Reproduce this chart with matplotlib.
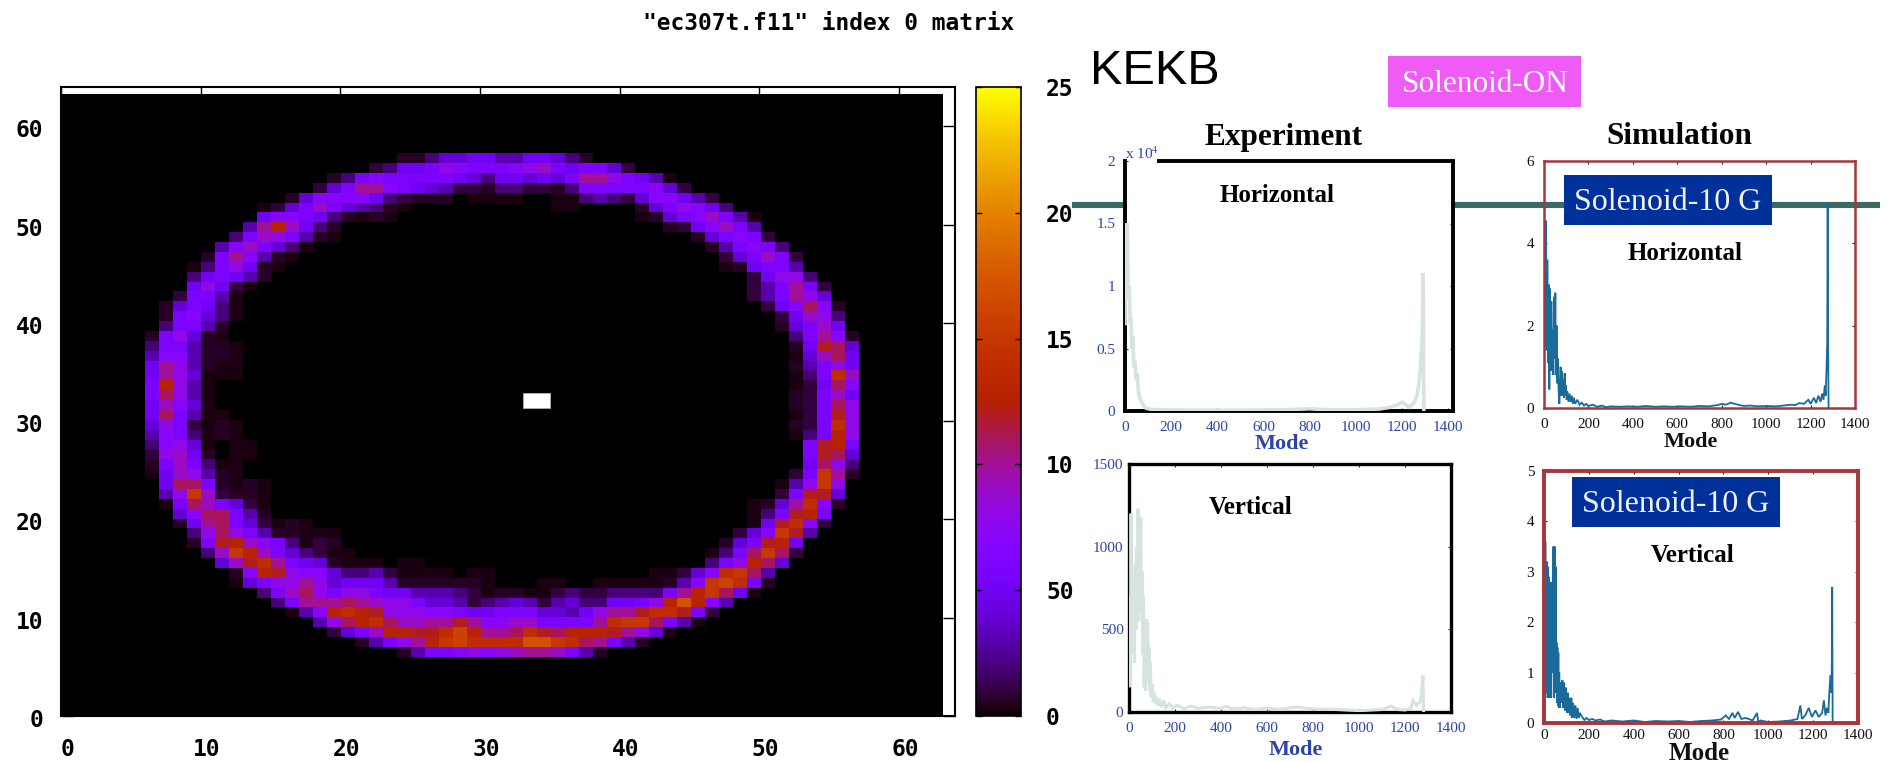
import numpy as np
import matplotlib
matplotlib.use('Agg')
import matplotlib.pyplot as plt
from matplotlib.colors import ListedColormap
from matplotlib.lines import Line2D
from matplotlib.patches import Rectangle
from matplotlib.transforms import ScaledTranslation

W, H = 1890, 762
plt.rcParams['mathtext.fontset'] = 'stix'

# --- map data, (row, first column, codes)
CODES = {'0': 0, 'a': 0.3, 'b': 0.6, '1': 1, '2': 2, '3': 3, '4': 4, '5': 5, '6': 6, '7': 7, '8': 8, '9': 9,
         'A': 10, 'B': 11, 'C': 12, 'D': 13, 'E': 14, 'F': 15, 'G': 16, 'H': 17}
heat_rows = [
    (56, 24, "bb24455335542b"),
    (55, 22, "1255687666789656641"),
    (54, 19, "b26766666542554546AA8653a"),
    (53, 18, "146AA7654311b2211b266666741"),
    (52, 16, "b47777521bbb0aaaa00aa2321477531"),
    (51, 14, "a14696432ba"), (51, 35, "aa"), (51, 41, "b468752"),
    (50, 14, "577652baba"), (50, 41, "ab467963a"),
    (49, 13, "3AD952b"), (49, 43, "b157963"),
    (48, 12, "269863ba"), (48, 45, "b46761"),
    (47, 11, "379642a"), (47, 46, "b36762"),
    (46, 10, "b6A73ba"), (46, 47, "146961"),
    (45, 9, "a2685ba"), (45, 47, "ab5663"),
    (44, 9, "25653b"), (44, 49, "15882"),
    (43, 9, "5851a"), (43, 49, "136A61"),
    (42, 8, "1663a"), (42, 49, "136A84"),
    (41, 7, "b4652a"), (41, 50, "157B7b"),
    (40, 7, "b6742a"), (40, 51, "15982"),
    (39, 7, "2663b"), (39, 51, "b4695"),
    (38, 6, "b684ba"), (38, 52, "26A7b"),
    (37, 6, "2663bba"), (37, 52, "b5CB4"),
    (36, 6, "3773bba"), (36, 52, "a49B5"),
    (35, 6, "5A83baa"), (35, 52, "b3685"),
    (34, 6, "5A84aaa"), (34, 52, "a26E9"),
    (33, 6, "6D83a"), (33, 52, "a15B7"),
    (32, 6, "6B83a"), (32, 52, "b1695"),
    (31, 6, "5974a"), (31, 52, "b16B8"),
    (30, 6, "5B63aa"), (30, 52, "a16C8"),
    (29, 6, "4861aba"), (29, 52, "b16E8"),
    (28, 6, "3762aba"), (28, 52, "a26D8"),
    (27, 6, "2784a0aa"), (27, 53, "6CD6"),
    (26, 6, "1895b0aa"), (26, 53, "6CB4"),
    (25, 6, "b6962aa"), (25, 53, "5B82"),
    (24, 6, "a5983ba"), (24, 52, "16FAb"),
    (23, 7, "5BB6baba"), (23, 51, "a38F8"),
    (22, 7, "38F91bba"), (22, 51, "16CC4"),
    (21, 7, "a6B9641a"), (21, 49, "ab4AE7b"),
    (20, 8, "47BB63b"), (20, 49, "a26CD6"),
    (19, 8, "b5AB641aba"), (19, 49, "a5CE71"),
    (18, 9, "28B863bbaaa"), (18, 48, "147FC3"),
    (17, 9, "b6CD9762a1b"), (17, 47, "b46CD5"),
    (16, 10, "29FD96421aa"), (16, 46, "a26BFB1"),
    (15, 11, "49CEA654baaa"), (15, 24, "aa"), (15, 46, "268DB4"),
    (14, 12, "b7DC87742231aaaa"), (14, 29, "aa"), (14, 42, "aa147EFB3"),
    (13, 12, "a4688A845553bbbbbba"), (13, 34, "aa"), (13, 38, "aaaaab37FGE6b"),
    (12, 14, "269B868865533321abbaa12112222" + "6ADFB5a"),
    (11, 15, "26AAABA98864431" + "2343134225568" + "DHD73"),
    (10, 16, "a37DEDC8887765" + "566644358AACEEC61"),
    (9, 18, "38BDEB99AACA7" + "7996666AEFFB63a"),
    (8, 19, "1469DDCCEGDAABECBDDDCA84a"),
    (7, 21, "b368ADFGEEEEHHFEBA63b"),
    (6, 24, "b36678789AA963b"),
]
heat_ticks = [0, 10, 20, 30, 40, 50, 60]
cbar_ticks = [0, 5, 10, 15, 20, 25]
cbar_labels = ['0', '50', '10', '15', '20', '25']
white_box = (33.1, 31.3, 1.9, 1.6)

# --- spectra
exp_h_mode = [0, 3, 6, 10, 14, 18, 22, 26, 30, 34, 38, 43, 48, 53, 58, 65, 75, 85, 95, 120, 150, 200, 300, 400, 500, 600, 700,
              800, 850, 900, 1000, 1100, 1150, 1180, 1200, 1215, 1230, 1250, 1265, 1275, 1282, 1287, 1291, 1294]
exp_h_val = [0.7, 1.5, 1.2, 1.5, 0.9, 1.0, 0.7, 0.75, 0.5, 0.6, 0.35, 0.4, 0.25, 0.3, 0.15, 0.1, 0.06, 0.03, 0.02, 0.012, 0.01, 0.008, 0.006, 0.006,
             0.006, 0.008, 0.01, 0.018, 0.012, 0.01, 0.01, 0.016, 0.03, 0.05, 0.07, 0.05, 0.03, 0.06, 0.13, 0.25, 0.45, 0.6, 1.1, 0.0]
exp_v_mode = [0, 3, 6, 9, 12, 15, 18, 21, 24, 27, 30, 33, 36, 39, 42, 45, 48, 51, 54, 57, 60, 63, 66, 69, 72, 75, 78, 81, 84, 87, 90, 93, 96, 100,
              105, 110, 115, 120, 125, 130, 140, 150, 160, 175, 190, 210, 240, 270, 300, 350, 400, 420, 450, 500, 550, 600, 650, 700, 730, 800,
              900, 1000, 1100, 1140, 1170, 1200, 1225, 1235, 1250, 1265, 1272, 1278, 1281]
exp_v_val = [300, 700, 150, 1200, 350, 800, 450, 650, 300, 900, 500, 1000, 650, 1230, 550, 1100, 700, 1180, 600, 850, 350, 700, 150, 530, 130, 560, 180, 540, 250,
             390, 130, 300, 90, 170, 60, 120, 50, 90, 40, 80, 30, 70, 25, 50, 25, 40, 20, 35, 22, 30, 20, 35, 20, 25, 15, 25, 15, 25, 30, 18,
             15, 8, 15, 35, 15, 12, 20, 70, 40, 60, 110, 220, 0]
sim_h_mode = [0, 3, 6, 9, 12, 15, 18, 21, 24, 27, 30, 33, 36, 39, 42, 45, 48, 51, 54, 57, 60, 63, 66, 69, 72, 75, 78, 81, 84, 87, 90, 93, 96, 99,
              102, 105, 110, 115, 120, 125, 130, 135, 140, 150, 160, 170, 180, 190, 200, 220, 240, 260, 280, 300, 340, 380, 420, 460, 500, 540,
              580, 620, 660, 700, 740, 780, 800, 820, 840, 860, 880, 900, 930, 960, 1000, 1040, 1080, 1110, 1130, 1150, 1170, 1190, 1200, 1215,
              1225, 1235, 1245, 1252, 1258, 1264, 1268, 1272, 1275, 1277, 1279, 1281]
sim_h_val = [1.9, 3.3, 1.5, 4.55, 1.4, 3.6, 1.1, 3.0, 0.45, 2.9, 0.9, 2.6, 1.3, 1.9, 0.8, 2.7, 1.2, 2.8, 0.8, 2.0, 0.6, 1.2, 0.4, 0.1, 0.5, 1.0, 0.3, 0.9, 0.3, 0.7,
             0.25, 0.85, 0.3, 0.55, 0.2, 0.4, 0.15, 0.35, 0.15, 0.3, 0.1, 0.25, 0.1, 0.2, 0.08, 0.13, 0.06, 0.1, 0.05, 0.08, 0.03, 0.06, 0.02, 0.04, 0.03,
             0.04, 0.03, 0.05, 0.03, 0.04, 0.03, 0.04, 0.03, 0.05, 0.04, 0.07, 0.1, 0.08, 0.13, 0.1, 0.07, 0.05, 0.06, 0.04, 0.05, 0.04, 0.06, 0.08, 0.07,
             0.12, 0.1, 0.2, 0.1, 0.25, 0.12, 0.3, 0.15, 0.35, 0.2, 0.55, 0.3, 1.0, 1.6, 5.0, 1.8, 0.0]
sim_v_mode = [0, 2, 4, 6, 8, 10, 12, 14, 16, 18, 20, 22, 24, 26, 28, 30, 32, 34, 36, 38, 40, 42, 44, 46, 48, 50, 52, 54, 56, 58, 60, 62, 64, 66, 68, 70,
              74, 78, 82, 86, 90, 94, 98, 102, 106, 110, 114, 118, 122, 126, 130, 135, 140, 145, 150, 155, 160, 170, 180, 190, 200, 215, 230, 250, 270,
              300, 350, 400, 450, 500, 550, 600, 650, 700, 750, 790, 810, 825, 840, 850, 865, 880, 900, 930, 950, 955, 965, 1000, 1050, 1100, 1130,
              1143, 1150, 1165, 1180, 1195, 1210, 1225, 1240, 1248, 1255, 1262, 1268, 1272, 1277, 1281, 1283, 1285, 1287]
sim_v_val = [1.2, 2.6, 0.7, 3.6, 0.6, 3.0, 0.8, 3.2, 0.5, 3.1, 0.7, 2.9, 0.5, 2.5, 0.6, 2.8, 0.5, 2.2, 1.5, 1.9, 1.0, 3.5, 0.5, 2.2, 3.5, 0.6, 3.1, 0.8, 1.6, 0.4,
             1.5, 0.35, 1.4, 0.3, 1.0, 0.3, 0.8, 0.4, 0.85, 0.3, 0.8, 0.25, 0.7, 0.2, 0.6, 0.2, 0.5, 0.15, 0.5, 0.1, 0.4, 0.1, 0.35, 0.08, 0.3, 0.1, 0.2, 0.12, 0.06,
             0.1, 0.06, 0.08, 0.05, 0.07, 0.03, 0.05, 0.03, 0.05, 0.02, 0.04, 0.03, 0.04, 0.02, 0.04, 0.05, 0.07, 0.15, 0.08, 0.2, 0.1, 0.22, 0.08, 0.1, 0.05,
             0.2, 0.02, 0.05, 0.02, 0.03, 0.05, 0.08, 0.35, 0.08, 0.15, 0.3, 0.12, 0.25, 0.12, 0.2, 0.45, 0.15, 0.3, 0.2, 0.6, 0.95, 0.6, 1.0, 2.7, 0.0]

mode_ticks = [0, 200, 400, 600, 800, 1000, 1200, 1400]
exp_h_ticks = ([0, 0.5, 1, 1.5, 2], ['0', '0.5', '1', '1.5', '2'])
exp_v_ticks = ([0, 500, 1000, 1500], ['0', '500', '1000', '1500'])
sim_h_ticks = ([0, 2, 4, 6], ['0', '2', '4', '6'])
sim_v_ticks = ([0, 1, 2, 3, 4, 5], ['0', '1', '2', '3', '4', '5'])

BLUE = '#2c45a8'
PALE = '#d6e3de'
SPEC = '#1a6a9a'
RED = '#a8343c'
GREEN = '#3a6a64'
NAVY = '#00309a'
PINK = '#ee5cf5'
MONO = 'DejaVu Sans Mono'
SERIF = 'Liberation Serif'

fig = plt.figure(figsize=(W / 100, H / 100), dpi=100, facecolor='white')


def px_axes(l, t, r, b, **kw):
    return fig.add_axes([l / W, 1 - b / H, (r - l) / W, (b - t) / H], **kw)


def px_text(x, y, s, **kw):
    kw.setdefault('ha', 'center')
    kw.setdefault('va', 'center')
    kw.setdefault('zorder', 6)
    return fig.text(x / W, 1 - y / H, s, **kw)


def px_box(l, t, r, b, color, zorder=4):
    fig.add_artist(Rectangle((l / W, 1 - b / H), (r - l) / W, (b - t) / H, transform=fig.transFigure,
                             facecolor=color, edgecolor='none', zorder=zorder))


# gnuplot default palette, rgbformulae 7,5,15
x = np.linspace(0, 1, 512)
pal = ListedColormap(np.c_[np.sqrt(x), x ** 3, np.clip(np.sin(2 * np.pi * x), 0, 1)])

grid = np.zeros((63, 63))
for row, start, codes in heat_rows:
    for i, c in enumerate(codes):
        grid[row, start + i] = CODES[c]

# --- left heat map
ax = px_axes(61, 87, 955, 716, zorder=1)
im = ax.imshow(grid, origin='lower', cmap=pal, vmin=0, vmax=25, extent=(0, 63.1, 0, 63.2), aspect='auto',
               interpolation='nearest', zorder=1)
ax.add_patch(Rectangle(white_box[:2], white_box[2], white_box[3], facecolor='white', edgecolor='#bbbbbb', lw=0.5, zorder=2))
ax.set_xlim(0, 64)
ax.set_ylim(0, 64)
ax.set_axisbelow(True)
ax.set_xticks(heat_ticks)
ax.set_yticks(heat_ticks)
ax.tick_params(direction='in', top=True, right=True, length=9, width=1)
ax.tick_params(axis='x', pad=16)
ax.tick_params(axis='y', pad=13)
for lab in ax.get_xticklabels() + ax.get_yticklabels():
    lab.set_fontfamily(MONO)
    lab.set_fontweight('bold')
    lab.set_fontsize(16.5)
for lab in ax.get_xticklabels():
    lab.set_transform(lab.get_transform() + ScaledTranslation(6 / 100, 0, fig.dpi_scale_trans))
for lab in ax.get_yticklabels():
    lab.set_transform(lab.get_transform() + ScaledTranslation(0, -2 / 100, fig.dpi_scale_trans))
for s in ax.spines.values():
    s.set_linewidth(1.5)
px_text(829, 23, '"ec307t.f11" index 0 matrix', family=MONO, weight='bold', fontsize=16.5)

# --- colour bar
cax = px_axes(976, 87, 1021, 716, zorder=1)
cb = fig.colorbar(im, cax=cax)
cb.set_ticks(cbar_ticks)
cb.set_ticklabels(cbar_labels)
cb.outline.set_linewidth(1.2)
cax.tick_params(direction='in', left=True, right=True, length=4, width=1, pad=18)
for lab in cax.get_yticklabels():
    lab.set_fontfamily(MONO)
    lab.set_fontweight('bold')
    lab.set_fontsize(16.5)

# --- band behind the right hand panels
fig.add_artist(Line2D([1072 / W, 1880 / W], [1 - 205 / H, 1 - 205 / H], color=GREEN, lw=4.4, transform=fig.transFigure,
                      zorder=0.5, solid_capstyle='butt'))


def spectrum(box, mode, val, ylim, yticks, line, lw, frame, frame_lw, text_color, face, xmax=1400, xpad=7, ypad=7, line_z=2):
    a = px_axes(*box, zorder=1, facecolor=face)
    a.plot(mode, val, color=line, lw=lw, solid_joinstyle='miter', zorder=line_z)
    a.set_xlim(0, xmax)
    a.set_ylim(*ylim)
    a.set_xticks(mode_ticks)
    a.set_xticklabels([str(m) for m in mode_ticks], family=SERIF, fontsize=11, color=text_color)
    a.set_yticks(yticks[0])
    a.set_yticklabels(yticks[1], family=SERIF, fontsize=11, color=text_color)
    a.tick_params(direction='in', top=True, right=True, length=2, width=0.8, color='#222222')
    a.tick_params(axis='x', pad=xpad)
    a.tick_params(axis='y', pad=ypad)
    for s in a.spines.values():
        s.set_color(frame)
        s.set_linewidth(frame_lw)
    return a


a1 = spectrum((1125, 161, 1453, 411), exp_h_mode, exp_h_val, (0, 2), exp_h_ticks, PALE, 2.6, 'black', 2.8, BLUE, 'white',
              xmax=1420, line_z=3)
a1.spines['top'].set_bounds(147, 1420)
a1.tick_params(top=False)
spectrum((1129, 464, 1451, 712), exp_v_mode, exp_v_val, (0, 1500), exp_v_ticks, PALE, 2.2, 'black', 2.4, BLUE, 'white',
         ypad=4, line_z=3)
spectrum((1544, 161, 1855, 408), sim_h_mode, sim_h_val, (0, 6), sim_h_ticks, SPEC, 1.3, RED, 1.8, '#111111', 'none')
spectrum((1544, 471, 1858, 723), sim_v_mode, sim_v_val, (0, 5), sim_v_ticks, SPEC, 1.3, RED, 2.8, '#111111', 'none', xpad=4)

# --- labels and boxes
px_text(1155, 71, 'KEKB', family='Liberation Sans', fontsize=35)
px_box(1388, 56, 1581, 107, PINK)
px_text(1485, 84, 'Solenoid-ON', family=SERIF, fontsize=22.5, color='white')
px_box(1564, 175, 1772, 225, NAVY)
px_text(1668, 203, 'Solenoid-10 G', family=SERIF, fontsize=23, color='#f2f2ff')
px_box(1572, 477, 1780, 527, NAVY)
px_text(1676, 505, 'Solenoid-10 G', family=SERIF, fontsize=23, color='#f2f2ff')

px_text(1284, 137, 'Experiment', family=SERIF, weight='bold', fontsize=22.5)
px_text(1679, 136, 'Simulation', family=SERIF, weight='bold', fontsize=22.5)
px_text(1277, 195, 'Horizontal', family=SERIF, weight='bold', fontsize=18)
px_text(1685, 253, 'Horizontal', family=SERIF, weight='bold', fontsize=18)
px_text(1251, 508, 'Vertical', family=SERIF, weight='bold', fontsize=18)
px_text(1693, 556, 'Vertical', family=SERIF, weight='bold', fontsize=18)
px_text(1282, 444, 'Mode', family=SERIF, weight='bold', fontsize=16, color=BLUE)
px_text(1296, 750, 'Mode', family=SERIF, weight='bold', fontsize=16, color=BLUE)
px_text(1691, 442, 'Mode', family=SERIF, weight='bold', fontsize=16, color='#111111')
px_text(1699, 753, 'Mode', family=SERIF, weight='bold', fontsize=18, color='#111111')
px_text(1142, 154, r'x 10$^{4}$', family=SERIF, fontsize=11, color=BLUE)

fig.savefig('out.png', dpi=100)
